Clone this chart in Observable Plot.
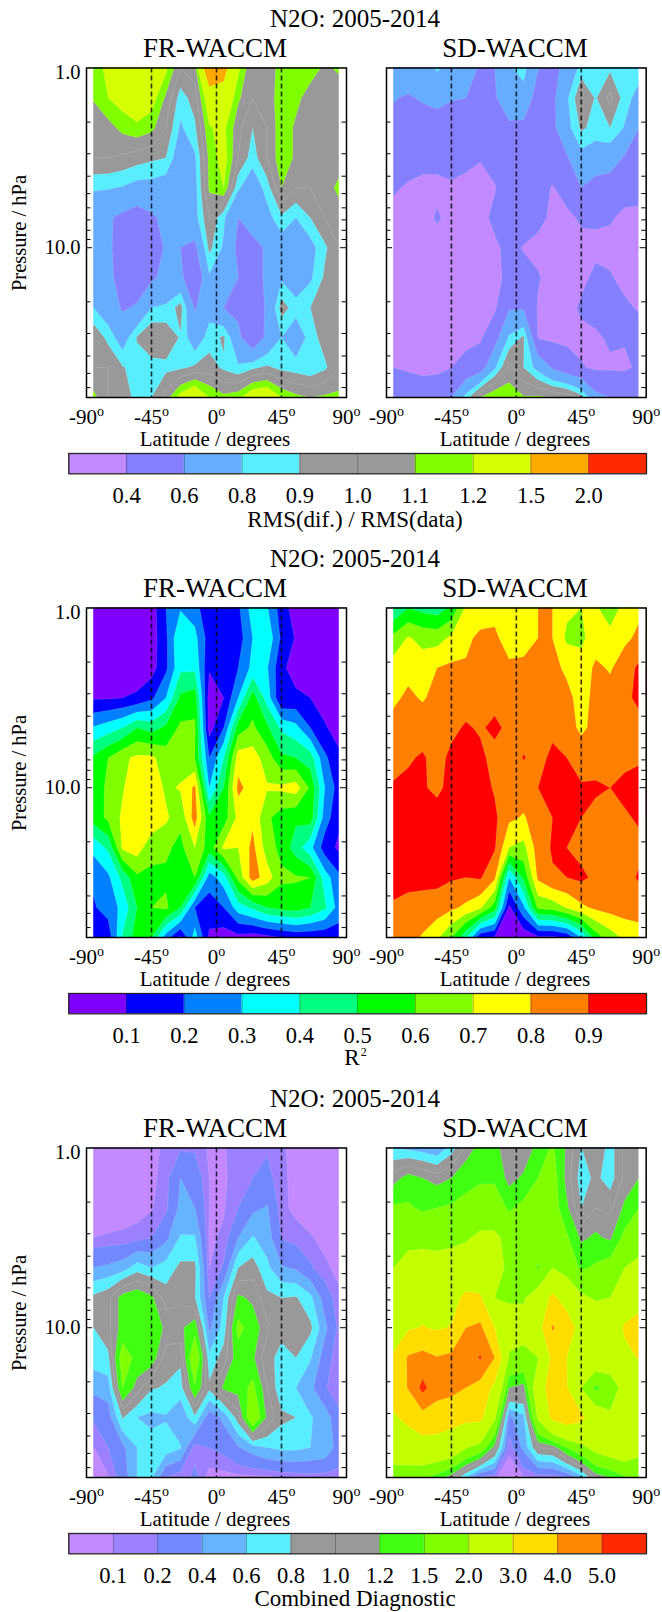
<!DOCTYPE html>
<html><head><meta charset="utf-8">
<script src="https://cdn.jsdelivr.net/npm/d3@7"></script>
<script src="https://cdn.jsdelivr.net/npm/@observablehq/plot@0.6"></script>
<style>
html,body{margin:0;padding:0;background:#fff}
#page{position:relative;width:662px;height:1612px;overflow:hidden;font-family:"Liberation Serif",serif;color:#000}
.t{position:absolute;line-height:1;white-space:nowrap}
</style></head><body><div id="page"></div>
<script>
// Grid: latitude every 10 degrees, pressure six levels per decade
const latitudes = [-85,-75,-65,-55,-45,-35,-25,-15,-5,5,15,25,35,45,55,65,75,85];
const pressureLevels = [1,1.47,2.15,3.16,4.64,6.81,10,14.7,21.5,31.6,46.4,68.1];
const minorTicks = [2,3,4,5,6,7,8,9,20,30,40,50,60];
const majorTicks = [1,10];
const xTicks = [-90,-45,0,45,90];

const rmsThresholds = [0.4,0.6,0.8,0.9,1.0,1.1,1.2,1.5,2.0];
const rmsColors = ["#c389ff","#8480ff","#66acff","#59eeff","#999999","#999999","#80ff00","#d4ff00","#ffaa00","#ff2a00"];
const r2Thresholds = [0.1,0.2,0.3,0.4,0.5,0.6,0.7,0.8,0.9];
const r2Colors = ["#8000ff","#0000ff","#0080ff","#00ffff","#00ff80","#00ff00","#80ff00","#ffff00","#ff8000","#ff0000"];
const cdThresholds = [0.1,0.2,0.4,0.6,0.8,1.0,1.2,1.5,2.0,3.0,4.0,5.0];
const cdColors = ["#c389ff","#9c80ff","#7288ff","#66b3ff","#59eeff","#999999","#999999","#40ff10","#80ff00","#c4ff00","#ffdd00","#ff8800","#ff2a00"];

const rmsFR = [
[1.15,1.23,1.32,1.32,1.29,1.23,1.0,1.05,1.8,1.6,1.23,1.0,1.0,1.17,1.17,1.15,1.08,1.12],
[1.11,1.2,1.26,1.32,1.26,1.08,0.85,0.95,1.32,1.38,1.12,1.0,1.03,1.17,1.13,1.05,1.0,1.03],
[1.03,1.06,1.13,1.17,1.13,1.0,0.78,0.88,1.19,1.23,1.03,0.9,1.0,1.17,1.08,1.0,1.0,1.03],
[1.0,1.0,0.98,0.95,0.92,0.9,0.7,0.78,1.13,1.26,1.0,0.85,1.0,1.17,1.08,1.0,1.0,1.03],
[0.82,0.81,0.79,0.75,0.75,0.72,0.68,0.75,1.12,1.2,0.82,0.7,0.85,1.1,1.0,1.0,1.03,1.14],
[0.65,0.62,0.56,0.5,0.57,0.65,0.7,0.75,1.0,0.82,0.6,0.68,0.75,0.88,0.8,0.9,1.0,1.03],
[0.65,0.63,0.52,0.5,0.5,0.62,0.6,0.55,0.93,0.78,0.55,0.55,0.62,0.72,0.68,0.75,0.88,1.0],
[0.65,0.63,0.55,0.5,0.57,0.65,0.65,0.4,0.78,0.7,0.6,0.55,0.62,0.78,0.7,0.78,0.92,1.0],
[0.8,0.7,0.58,0.62,0.8,0.82,0.95,0.58,0.75,0.6,0.55,0.5,0.62,0.95,0.85,0.9,0.95,1.0],
[0.98,0.87,0.72,0.91,1.0,0.98,0.89,0.7,0.85,0.92,0.65,0.42,0.65,0.8,0.7,0.85,0.95,1.0],
[1.0,1.0,0.91,0.85,0.85,0.87,0.88,0.92,0.95,0.88,0.82,0.88,0.92,0.87,0.85,0.82,0.88,1.0],
[1.13,1.0,0.95,0.87,0.9,1.05,1.26,1.38,1.2,1.13,1.17,1.32,1.35,1.2,1.13,1.1,1.12,1.13]];
const rmsSD = [
[0.8,0.72,0.72,0.82,0.75,0.68,0.58,0.6,0.78,0.85,0.61,0.55,0.65,0.85,0.9,0.88,0.85,0.85],
[0.61,0.58,0.62,0.66,0.61,0.6,0.5,0.58,0.72,0.74,0.5,0.55,0.78,1.0,0.89,1.03,0.85,0.75],
[0.55,0.5,0.5,0.5,0.5,0.5,0.5,0.52,0.56,0.55,0.5,0.55,0.75,0.92,0.86,0.9,0.79,0.6],
[0.5,0.48,0.45,0.45,0.46,0.44,0.41,0.47,0.53,0.53,0.5,0.5,0.58,0.75,0.72,0.7,0.58,0.55],
[0.42,0.38,0.36,0.36,0.38,0.36,0.34,0.39,0.5,0.5,0.47,0.39,0.46,0.6,0.52,0.5,0.44,0.43],
[0.35,0.35,0.33,0.42,0.35,0.34,0.35,0.44,0.5,0.5,0.43,0.38,0.37,0.42,0.42,0.41,0.38,0.38],
[0.35,0.34,0.34,0.33,0.34,0.34,0.35,0.37,0.45,0.39,0.37,0.35,0.34,0.36,0.37,0.37,0.36,0.36],
[0.34,0.33,0.33,0.34,0.35,0.35,0.35,0.37,0.43,0.46,0.41,0.36,0.35,0.37,0.43,0.41,0.37,0.37],
[0.34,0.33,0.33,0.34,0.34,0.34,0.34,0.38,0.58,0.58,0.39,0.36,0.36,0.42,0.45,0.47,0.42,0.39],
[0.35,0.36,0.36,0.36,0.37,0.37,0.38,0.52,0.82,0.92,0.39,0.37,0.37,0.37,0.38,0.42,0.41,0.45],
[0.4,0.39,0.37,0.37,0.4,0.44,0.5,0.78,1.03,0.9,0.75,0.58,0.47,0.41,0.38,0.38,0.38,0.42],
[0.45,0.46,0.48,0.5,0.6,0.85,1.1,1.2,1.17,1.11,1.12,1.1,1.08,0.95,0.65,0.6,0.55,0.55]];
const r2FR = [
[0.02,0.03,0.05,0.1,0.05,0.2,0.29,0.25,0.1,0.1,0.18,0.35,0.31,0.15,0.05,0.03,0.02,0.02],
[0.02,0.03,0.03,0.03,0.05,0.18,0.4,0.33,0.15,0.12,0.15,0.3,0.38,0.18,0.09,0.03,0.02,0.02],
[0.02,0.03,0.03,0.03,0.06,0.18,0.38,0.38,0.11,0.13,0.2,0.33,0.31,0.12,0.06,0.03,0.02,0.02],
[0.09,0.09,0.1,0.12,0.18,0.3,0.52,0.55,0.05,0.1,0.3,0.55,0.36,0.1,0.12,0.1,0.06,0.04],
[0.31,0.35,0.4,0.5,0.46,0.52,0.62,0.62,0.06,0.2,0.55,0.62,0.52,0.38,0.33,0.2,0.11,0.06],
[0.52,0.6,0.68,0.72,0.72,0.65,0.65,0.6,0.2,0.4,0.75,0.75,0.65,0.52,0.5,0.45,0.22,0.12],
[0.52,0.63,0.69,0.78,0.78,0.68,0.71,0.82,0.3,0.5,0.83,0.75,0.71,0.72,0.75,0.58,0.3,0.15],
[0.55,0.62,0.72,0.78,0.78,0.72,0.63,0.85,0.52,0.55,0.73,0.78,0.62,0.55,0.52,0.55,0.25,0.12],
[0.33,0.42,0.72,0.75,0.63,0.62,0.57,0.7,0.55,0.72,0.7,0.83,0.65,0.57,0.45,0.33,0.15,0.08],
[0.22,0.28,0.43,0.58,0.58,0.58,0.52,0.6,0.25,0.35,0.63,0.85,0.75,0.62,0.61,0.6,0.35,0.22],
[0.19,0.24,0.33,0.5,0.6,0.62,0.5,0.2,0.15,0.2,0.35,0.42,0.5,0.53,0.55,0.5,0.42,0.25],
[0.12,0.14,0.41,0.55,0.5,0.25,0.08,0.35,0.08,0.05,0.07,0.05,0.07,0.1,0.12,0.12,0.12,0.15]];
const r2SD = [
[0.41,0.5,0.47,0.45,0.52,0.72,0.75,0.75,0.77,0.78,0.8,0.8,0.72,0.7,0.72,0.62,0.75,0.78],
[0.63,0.71,0.67,0.66,0.72,0.78,0.82,0.83,0.73,0.75,0.8,0.8,0.68,0.68,0.75,0.75,0.78,0.82],
[0.75,0.77,0.75,0.8,0.82,0.81,0.85,0.85,0.83,0.83,0.85,0.83,0.78,0.74,0.82,0.79,0.85,0.92],
[0.78,0.82,0.79,0.83,0.86,0.86,0.87,0.87,0.86,0.86,0.86,0.85,0.83,0.76,0.83,0.84,0.88,0.92],
[0.84,0.85,0.86,0.87,0.88,0.91,0.89,0.92,0.88,0.87,0.87,0.88,0.84,0.78,0.83,0.85,0.86,0.87],
[0.87,0.89,0.91,0.87,0.92,0.93,0.92,0.87,0.85,0.905,0.87,0.92,0.9,0.86,0.87,0.87,0.88,0.89],
[0.91,0.92,0.91,0.88,0.93,0.94,0.94,0.89,0.86,0.85,0.9,0.93,0.93,0.91,0.91,0.9,0.92,0.93],
[0.93,0.94,0.94,0.94,0.94,0.94,0.94,0.92,0.82,0.79,0.85,0.9,0.93,0.9,0.88,0.88,0.89,0.91],
[0.93,0.94,0.94,0.94,0.94,0.93,0.93,0.91,0.7,0.67,0.85,0.91,0.9,0.87,0.8,0.85,0.87,0.88],
[0.93,0.93,0.93,0.93,0.91,0.9,0.91,0.82,0.3,0.52,0.82,0.89,0.9,0.92,0.88,0.86,0.87,0.91],
[0.89,0.87,0.86,0.85,0.82,0.78,0.72,0.55,0.08,0.28,0.62,0.64,0.71,0.78,0.82,0.84,0.85,0.85],
[0.85,0.84,0.79,0.72,0.6,0.42,0.12,0.09,0.02,0.03,0.08,0.08,0.12,0.3,0.55,0.65,0.72,0.75]];
const cdFR = [
[0.05,0.05,0.05,0.05,0.06,0.13,0.18,0.18,0.08,0.09,0.15,0.18,0.18,0.12,0.06,0.04,0.04,0.04],
[0.04,0.05,0.05,0.05,0.07,0.15,0.4,0.3,0.1,0.08,0.16,0.2,0.25,0.13,0.06,0.04,0.04,0.04],
[0.04,0.05,0.05,0.05,0.09,0.17,0.45,0.4,0.1,0.09,0.2,0.35,0.42,0.13,0.07,0.04,0.04,0.04],
[0.1,0.11,0.12,0.15,0.2,0.35,0.62,0.62,0.08,0.12,0.4,0.62,0.5,0.19,0.15,0.11,0.07,0.05],
[0.4,0.44,0.5,0.7,0.6,0.68,0.85,0.85,0.1,0.22,0.8,0.9,0.65,0.42,0.37,0.22,0.12,0.07],
[0.85,0.95,1.3,1.4,1.25,0.9,0.95,0.82,0.2,0.6,1.25,1.15,0.85,0.8,0.82,0.65,0.3,0.12],
[0.8,0.95,1.3,1.38,1.38,1.15,1.15,1.35,0.35,0.68,1.6,1.35,1.05,0.85,0.9,0.85,0.45,0.15],
[0.7,0.75,1.7,1.4,1.35,0.9,0.85,1.9,0.65,0.9,1.35,1.25,0.85,0.75,0.8,0.62,0.3,0.1],
[0.45,0.5,1.5,1.1,0.82,0.78,0.7,1.45,0.85,1.25,1.3,1.6,1.0,0.65,0.6,0.45,0.22,0.1],
[0.22,0.3,0.82,0.6,0.55,0.58,0.45,0.75,0.27,0.45,0.9,1.9,1.15,0.85,0.8,0.62,0.5,0.25],
[0.1,0.2,0.35,0.6,0.68,0.72,0.62,0.13,0.2,0.25,0.38,0.5,0.6,0.65,0.65,0.6,0.55,0.3],
[0.08,0.09,0.28,0.6,0.62,0.2,0.1,0.25,0.05,0.06,0.07,0.07,0.07,0.1,0.12,0.14,0.14,0.15]];
const cdSD = [
[0.6,0.55,0.5,0.42,0.7,1.05,1.3,1.25,1.1,1.0,1.3,1.55,1.15,0.79,1.0,0.7,1.05,1.05],
[1.1,1.3,1.2,1.1,1.2,1.4,1.45,1.45,1.1,1.25,1.5,1.7,1.1,0.7,0.85,0.7,1.05,1.2],
[1.55,1.55,1.45,1.5,1.55,1.6,1.7,1.7,1.45,1.6,1.7,1.7,1.25,0.8,1.0,0.95,1.25,1.5],
[1.8,1.85,1.85,1.85,1.9,1.95,2.1,2.1,1.85,1.75,1.8,1.9,1.55,1.15,1.25,1.15,1.6,1.75],
[2.0,2.2,2.25,2.2,2.2,2.3,2.35,2.3,1.85,1.95,1.45,2.0,1.75,1.45,1.55,1.7,2.0,2.15],
[2.3,2.5,2.6,2.6,2.7,3.2,3.1,2.0,1.95,1.95,2.3,3.2,2.6,2.1,1.95,2.0,2.4,2.7],
[2.6,2.9,3.05,2.9,3.05,4.0,4.2,3.0,2.2,2.2,2.6,4.1,3.5,2.6,2.4,2.5,3.1,3.3],
[3.1,4.1,4.3,4.05,4.2,4.4,5.1,4.0,1.95,1.85,2.0,3.2,3.0,2.6,2.5,2.4,2.8,3.05],
[3.4,4.05,5.3,4.4,4.3,4.0,3.6,2.8,1.2,1.1,2.5,3.5,3.05,2.0,1.4,1.7,2.2,2.4],
[2.9,3.2,3.6,3.5,3.3,3.2,3.2,2.1,0.35,0.55,2.1,3.2,3.5,3.2,2.4,2.1,2.2,2.5],
[2.4,2.5,2.6,2.6,2.5,2.05,1.8,1.1,0.12,0.45,1.0,1.05,1.5,1.85,2.2,2.4,2.5,2.2],
[1.7,1.65,1.6,1.35,1.05,0.6,0.15,0.11,0.05,0.08,0.12,0.12,0.2,0.5,1.05,1.2,1.45,1.55]];

const page = document.getElementById("page");
const serif = '"Liberation Serif", serif';

function label(text, cx, baseline, size) {
  const d = document.createElement("div");
  d.className = "t";
  d.style.left = cx + "px";
  d.style.top = (baseline - 0.8375 * size) + "px";
  d.style.fontSize = size + "px";
  d.style.transform = "translateX(-50%)";
  d.innerHTML = text;
  page.appendChild(d);
}
function vlabel(text, baselineX, cy, size) {
  const d = document.createElement("div");
  d.className = "t";
  d.style.left = (baselineX - 0.3375 * size) + "px";
  d.style.top = cy + "px";
  d.style.fontSize = size + "px";
  d.style.transform = "translate(-50%,-50%) rotate(-90deg)";
  d.textContent = text;
  page.appendChild(d);
}
const lg = Math.log10;

function panel(z, thresholds, colors, svgLeft, svgWidth, frameLeft, frameRight, offsetY, top, bottom, showY) {
  const H = 530;
  const svg = Plot.plot({
    width: svgWidth, height: H,
    marginLeft: frameLeft - svgLeft, marginRight: svgLeft + svgWidth - frameRight,
    marginTop: top, marginBottom: H - bottom,
    style: {overflow: "visible", background: "transparent", fontFamily: serif, color: "#000"},
    x: {domain: [-90, 90], axis: null},
    y: {domain: [11 / 6, 0], axis: null},
    color: {type: "threshold", domain: thresholds, range: colors},
    marks: [
      Plot.contour(z.flat(), {
        width: latitudes.length, height: pressureLevels.length,
        x1: -90, x2: 90, y1: -0.5 / 6, y2: 11 / 6 + 0.5 / 6,
        value: d => d,
        thresholds: [0, ...thresholds],
        fill: "value", stroke: "#fff", strokeOpacity: 0.28, strokeWidth: 0.5,
        clip: "frame"
      }),
      // the data stop at the outermost latitudes: the strip beyond them stays blank
      Plot.rect([[-90, latitudes[0]], [latitudes[17], 90]], {x1: d => d[0], x2: d => d[1], y1: 0, y2: 11 / 6, fill: "#fff"}),
      Plot.ruleX([-45, 0, 45], {stroke: "#000", strokeWidth: 1.6, strokeDasharray: "5,3", strokeOpacity: 0.8}),
      Plot.ruleY(minorTicks, {y: lg, x1: -90, x2: -86.9, stroke: "#000", strokeWidth: 1}),
      Plot.ruleY(minorTicks, {y: lg, x1: 90, x2: 86.9, stroke: "#000", strokeWidth: 1}),
      Plot.ruleY([10], {y: lg, x1: -90, x2: -85.8, stroke: "#000", strokeWidth: 1}),
      Plot.ruleY([10], {y: lg, x1: 90, x2: 85.8, stroke: "#000", strokeWidth: 1}),
      Plot.axisX({ticks: xTicks, tickSize: 0, tickPadding: 12, fontSize: 21, label: null, tickFormat: d => String(d)}),
      ...(showY ? [Plot.axisY({ticks: majorTicks.map(lg), tickSize: 0, tickPadding: 6, fontSize: 20.5, label: null,
        tickFormat: d => (10 ** d).toFixed(1)})] : []),
      Plot.frame({stroke: "#000", strokeWidth: 1.5})
    ]
  });
  svg.querySelectorAll('g[aria-label="x-axis tick label"] text').forEach(t => {
    const ts = document.createElementNS("http://www.w3.org/2000/svg", "tspan");
    ts.setAttribute("font-size", "14");
    ts.setAttribute("dy", "-8");
    ts.textContent = "o";
    t.appendChild(ts);
  });
  svg.querySelectorAll('g[aria-label="y-axis tick label"] text').forEach(t => {
    if (t.textContent === "1.0") t.setAttribute("dy", "0.22em");
  });
  svg.style.position = "absolute";
  svg.style.left = svgLeft + "px";
  svg.style.top = offsetY + "px";
  page.appendChild(svg);
}

function colorbar(levels, colors, y0, y1) {
  const h = 60;
  const n = colors.length;
  const cells = colors.map((c, i) => ({i, c}));
  const svg = Plot.plot({
    width: 662, height: h, marginLeft: 68.3, marginRight: 16, marginTop: 0, marginBottom: h - (y1 - y0),
    style: {overflow: "visible", background: "transparent", fontFamily: serif, color: "#000"},
    x: {domain: [0, n], axis: null}, y: {domain: [0, 1], axis: null},
    marks: [
      Plot.rect(cells, {x1: d => d.i, x2: d => d.i + 1, y1: 0, y2: 1, fill: d => d.c}),
      Plot.ruleX(levels.map((_, i) => i + 1), {stroke: "#000", strokeWidth: 0.5, strokeOpacity: 0.6}),
      Plot.axisX({ticks: levels.map((_, i) => i + 1), tickSize: 0, tickPadding: 13, fontSize: 22.5, label: null,
        tickFormat: i => levels[i - 1].toFixed(1)}),
      Plot.frame({stroke: "#222", strokeWidth: 1.3})
    ]
  });
  svg.style.position = "absolute";
  svg.style.left = "0px";
  svg.style.top = y0 + "px";
  page.appendChild(svg);
}

const rows = [
  {off: 0, fr: rmsFR, sd: rmsSD, th: rmsThresholds, col: rmsColors},
  {off: 540, fr: r2FR, sd: r2SD, th: r2Thresholds, col: r2Colors},
  {off: 1080, fr: cdFR, sd: cdSD, th: cdThresholds, col: cdColors}
];
for (const r of rows) {
  panel(r.fr, r.th, r.col, 0, 356, 86, 346, r.off, 67.5, 397, true);
  panel(r.sd, r.th, r.col, 356, 306, 386, 645.7, r.off, 67.5, 397, false);
  colorbar(r.th, r.col, r.off + 453, r.off + 473.3);
  label("N2O: 2005-2014", 355, r.off + 27, 25);
  label("FR-WACCM", 215, r.off + 57.5, 27);
  label("SD-WACCM", 515, r.off + 57.5, 27);
  label("Latitude / degrees", 215, r.off + 446.5, 21);
  label("Latitude / degrees", 515, r.off + 446.5, 21);
  vlabel("Pressure / hPa", 26, r.off + 232.5, 20.5);
}
label("RMS(dif.) / RMS(data)", 355, 527, 23);
label('R<span style="font-size:12px;position:relative;top:-9px;left:1px">2</span>', 355, 1065.6, 23);
label("Combined Diagnostic", 355, 1606.6, 23);
</script></body></html>
